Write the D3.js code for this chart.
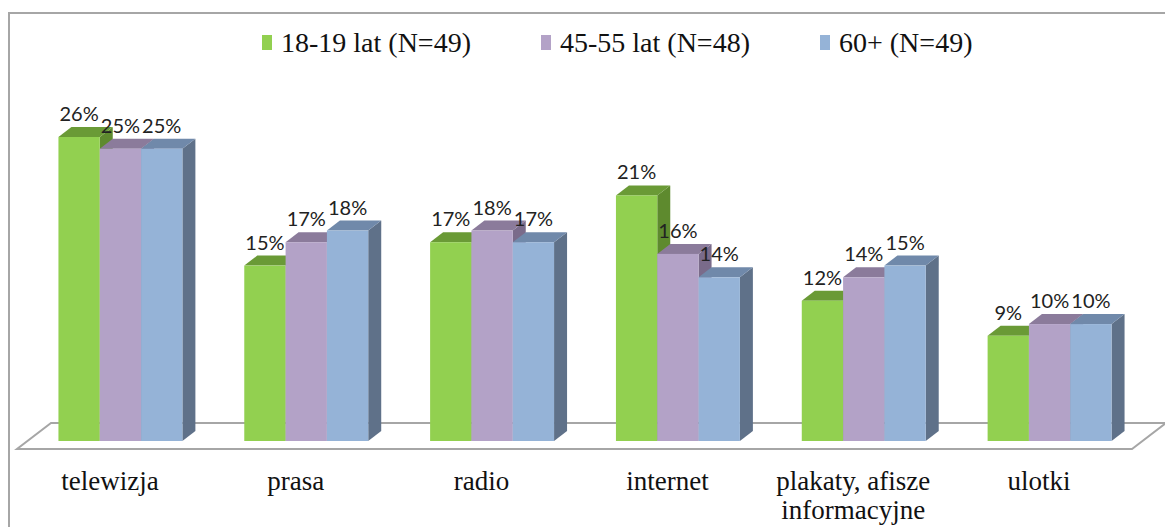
<!DOCTYPE html>
<html>
<head>
<meta charset="utf-8">
<script src="https://cdn.jsdelivr.net/npm/d3@7"></script>
<style>
  body { margin: 0; background: #fff; }
  svg { display: block; }
</style>
</head>
<body>
<svg width="1165" height="527"></svg>
<script>
const categories = ['telewizja', 'prasa', 'radio', 'internet', 'plakaty, afisze\ninformacyjne', 'ulotki']
const series = ['18-19 lat (N=49)', '45-55 lat (N=48)', '60+ (N=49)']
const values1819 = [26, 15, 17, 21, 12, 9]
const values4555 = [25, 17, 18, 16, 14, 10]
const values60 = [25, 18, 17, 14, 15, 10]
const frontColors = ['#92d050', '#b3a2c7', '#95b3d7']
const topColors = ['#6a9a36', '#8b7b9b', '#7089aa']
const sideColors = ['#5e8a2e', '#7a6b8a', '#5f7189']

const allValues = [values1819, values4555, values60]

const svg = d3.select('svg')

// chart frame (cut by the picture edges)
svg.append('rect')
    .attr('x', 9)
    .attr('y', 13)
    .attr('width', 1300)
    .attr('height', 700)
    .attr('fill', 'none')
    .attr('stroke', '#a6a6a6')
    .attr('stroke-width', 2)

// floor geometry
const floorY = 449
const floorDX = 34, floorDY = -26
const barDX = 13, barDY = -10
const offX = (floorDX - barDX) / 2, offY = (floorDY - barDY) / 2

const x0 = d3.scaleBand()
    .domain(categories)
    .range([17, 1132])

const groupW = x0.bandwidth() * 0.667
const x1 = d3.scaleBand()
    .domain(series)
    .range([0, groupW])

const y = d3.scaleLinear()
    .domain([0, 26])
    .range([0, 304])

// floor
const fx0 = x0.range()[0], fx1 = x0.range()[1]
svg.append('path')
    .attr('d', `M ${fx0} ${floorY} L ${fx1} ${floorY} L ${fx1 + floorDX} ${floorY + floorDY} L ${fx0 + floorDX} ${floorY + floorDY} Z`)
    .attr('fill', '#fff')
    .attr('stroke', '#a6a6a6')
    .attr('stroke-width', 2)

const baseY = floorY + offY

const bars = []
categories.forEach((c, i) => {
    series.forEach((s, j) => {
        bars.push({ cat: c, ser: s, j: j, v: allValues[j][i] })
    })
})

const barG = svg.selectAll('g.bar')
    .data(bars)
    .join('g')
        .attr('class', 'bar')

barG.each(function (d) {
    const g = d3.select(this)
    const xl = x0(d.cat) + (x0.bandwidth() - groupW) / 2 + offX + x1(d.ser)
    const w = x1.bandwidth()
    const yt = baseY - y(d.v)
    // side face
    g.append('path')
        .attr('d', `M ${xl + w} ${baseY} L ${xl + w + barDX} ${baseY + barDY} L ${xl + w + barDX} ${yt + barDY} L ${xl + w} ${yt} Z`)
        .attr('fill', sideColors[d.j])
    // top face
    g.append('path')
        .attr('d', `M ${xl} ${yt} L ${xl + w} ${yt} L ${xl + w + barDX} ${yt + barDY} L ${xl + barDX} ${yt + barDY} Z`)
        .attr('fill', topColors[d.j])
    // front face
    g.append('rect')
        .attr('x', xl)
        .attr('y', yt)
        .attr('width', w)
        .attr('height', y(d.v))
        .attr('fill', frontColors[d.j])
})

// value labels
svg.selectAll('text.val')
    .data(bars)
    .join('text')
        .attr('class', 'val')
        .attr('x', d => x0(d.cat) + (x0.bandwidth() - groupW) / 2 + offX + x1(d.ser) + x1.bandwidth() / 2)
        .attr('y', d => baseY - y(d.v) - 16)
        .attr('text-anchor', 'middle')
        .attr('font-family', 'Lato, "Open Sans", sans-serif')
        .attr('font-size', 20)
        .attr('fill', '#222')
        .text(d => d.v + '%')

// category labels
const catLabels = svg.selectAll('text.cat')
    .data(categories)
    .join('text')
        .attr('class', 'cat')
        .attr('x', d => x0(d) + x0.bandwidth() / 2)
        .attr('y', 490)
        .attr('text-anchor', 'middle')
        .attr('font-family', '"Liberation Serif", "Times New Roman", serif')
        .attr('font-size', 27)
        .attr('fill', '#111')

catLabels.selectAll('tspan')
    .data(d => d.split('\n').map(t => ({ t: t, x: x0(d) + x0.bandwidth() / 2 })))
    .join('tspan')
        .attr('x', d => d.x)
        .attr('dy', (d, i) => i === 0 ? 0 : 29)
        .text(d => d.t)

// legend
const legend = svg.append('g')
    .attr('transform', 'translate(262,0)')

const item = legend.selectAll('g')
    .data(series)
    .join('g')
        .attr('transform', (d, i) => `translate(${i * 279},0)`)

item.append('rect')
    .attr('x', 0)
    .attr('y', 35)
    .attr('width', 10)
    .attr('height', 15)
    .attr('fill', (d, i) => frontColors[i])

item.append('text')
    .attr('x', 19)
    .attr('y', 52)
    .attr('font-family', '"Liberation Serif", "Times New Roman", serif')
    .attr('font-size', 28)
    .attr('fill', '#111')
    .text(d => d)
</script>
</body>
</html>
